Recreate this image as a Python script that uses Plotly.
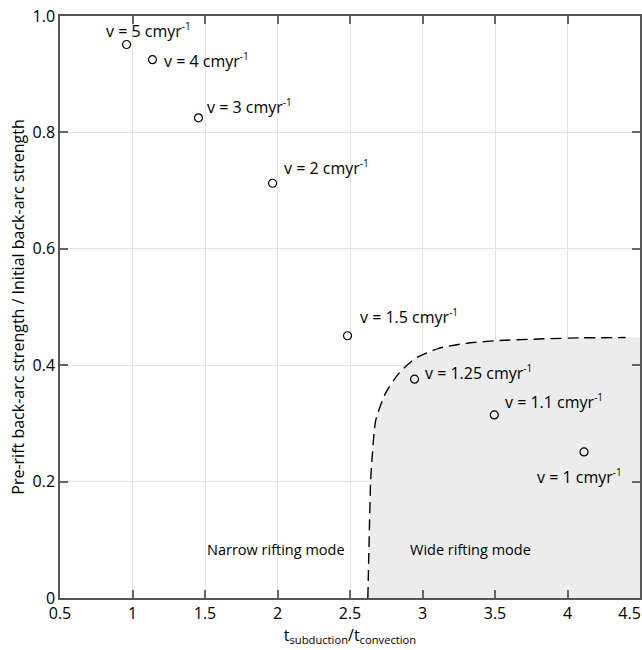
import plotly.graph_objects as go

# Data
velocities = ["5", "4", "3", "2", "1.5", "1.25", "1.1", "1"]
time_ratio = [0.959, 1.138, 1.455, 1.966, 2.483, 2.945, 3.495, 4.114]
strength_ratio = [0.951, 0.925, 0.825, 0.7126, 0.4506, 0.376, 0.3146, 0.251]

# Label offsets in pixels (xshift, yshift) for each point
label_dx = [-23, 9, 7, 9, 10, 8, 9, -49]
label_dy = [14, -1, 11, 16, 19, 7, 13, -25]

# Regime boundary (narrow / wide rifting)
boundary_x = [2.623, 2.632, 2.642, 2.651, 2.677, 2.745, 2.837, 2.952, 3.112, 3.297, 3.503, 3.8, 4.1, 4.5]
boundary_y = [0.0, 0.1, 0.2, 0.236, 0.305, 0.352, 0.386, 0.412, 0.429, 0.4375, 0.442, 0.445, 0.447, 0.448]

x_ticks = [0.5, 1, 1.5, 2, 2.5, 3, 3.5, 4, 4.5]
x_ticktext = ["0.5", "1", "1.5", "2", "2.5", "3", "3.5", "4",
              "4.5&nbsp;&nbsp;&nbsp;&nbsp;&nbsp;"]
y_ticks = [0, 0.2, 0.4, 0.6, 0.8, 1.0]
y_ticktext = ["0", "0.2", "0.4", "0.6", "0.8", "1.0"]

FONT = "Open Sans"
SUP = "<sup><span style='font-size:10px'>-1</span></sup>"

fig = go.Figure()

# Shaded wide-rifting region
fig.add_trace(go.Scatter(
    x=boundary_x + [4.5, boundary_x[0]],
    y=boundary_y + [0.0, 0.0],
    fill="toself", fillcolor="#ececec",
    line=dict(width=0), mode="lines", hoverinfo="skip", showlegend=False,
))

# Dashed boundary line
dash_x = [v for v in boundary_x if v <= 4.4] + [4.4]
dash_y = [boundary_y[i] for i, v in enumerate(boundary_x) if v <= 4.4] + [0.4475]
fig.add_trace(go.Scatter(
    x=dash_x, y=dash_y, mode="lines",
    line=dict(color="black", width=1.4, dash="11px,6px", shape="spline", smoothing=0.6),
    hoverinfo="skip", showlegend=False,
))

# Data points
fig.add_trace(go.Scatter(
    x=time_ratio, y=strength_ratio, mode="markers",
    marker=dict(symbol="circle-open", size=8, color="black", line=dict(width=1.2)),
    showlegend=False,
))

for v, x, y, dx, dy in zip(velocities, time_ratio, strength_ratio, label_dx, label_dy):
    fig.add_annotation(
        x=x, y=y, text=f"v = {v} cmyr{SUP}", showarrow=False,
        xanchor="left", yanchor="middle", xshift=dx, yshift=dy,
        font=dict(family=FONT, size=16, color="black"),
    )

fig.add_annotation(x=1.99, y=0.083, text="Narrow rifting mode", showarrow=False,
                   xanchor="center", yanchor="middle",
                   font=dict(family=FONT, size=14.5, color="black"))
fig.add_annotation(x=3.33, y=0.083, text="Wide rifting mode", showarrow=False,
                   xanchor="center", yanchor="middle",
                   font=dict(family=FONT, size=14.5, color="black"))

axis_common = dict(
    showline=True, linecolor="#555555", linewidth=1.5, mirror="ticks",
    ticks="inside", ticklen=8, tickcolor="#666666", tickwidth=1.5,
    showgrid=True, gridcolor="#e3e3e3", gridwidth=1, zeroline=False,
    tickfont=dict(family=FONT, size=16, color="black"),
    automargin=False, ticklabeloverflow="allow",
)

fig.update_xaxes(
    range=[0.5, 4.5], tickvals=x_ticks, ticktext=x_ticktext,
    title=dict(text="t<sub>subduction</sub>/t<sub>convection</sub>",
               font=dict(family=FONT, size=16, color="black"), standoff=0),
    ticklabelstandoff=0,
    **axis_common,
)
fig.update_yaxes(
    range=[0, 1.0], tickvals=y_ticks, ticktext=y_ticktext,
    title=dict(text="Pre-rift back-arc strength / Initial back-arc strength",
               font=dict(family=FONT, size=16, color="black"), standoff=4),
    ticklabelstandoff=0,
    **axis_common,
)

fig.update_layout(
    width=642, height=650,
    margin=dict(l=60, r=2, t=16, b=52),
    paper_bgcolor="white", plot_bgcolor="white",
    font=dict(family=FONT),
)

fig.write_html(
    "out.html",
    config={"displayModeBar": False},
    post_script="document.body.style.margin='0';document.body.style.overflow='hidden';",
)
